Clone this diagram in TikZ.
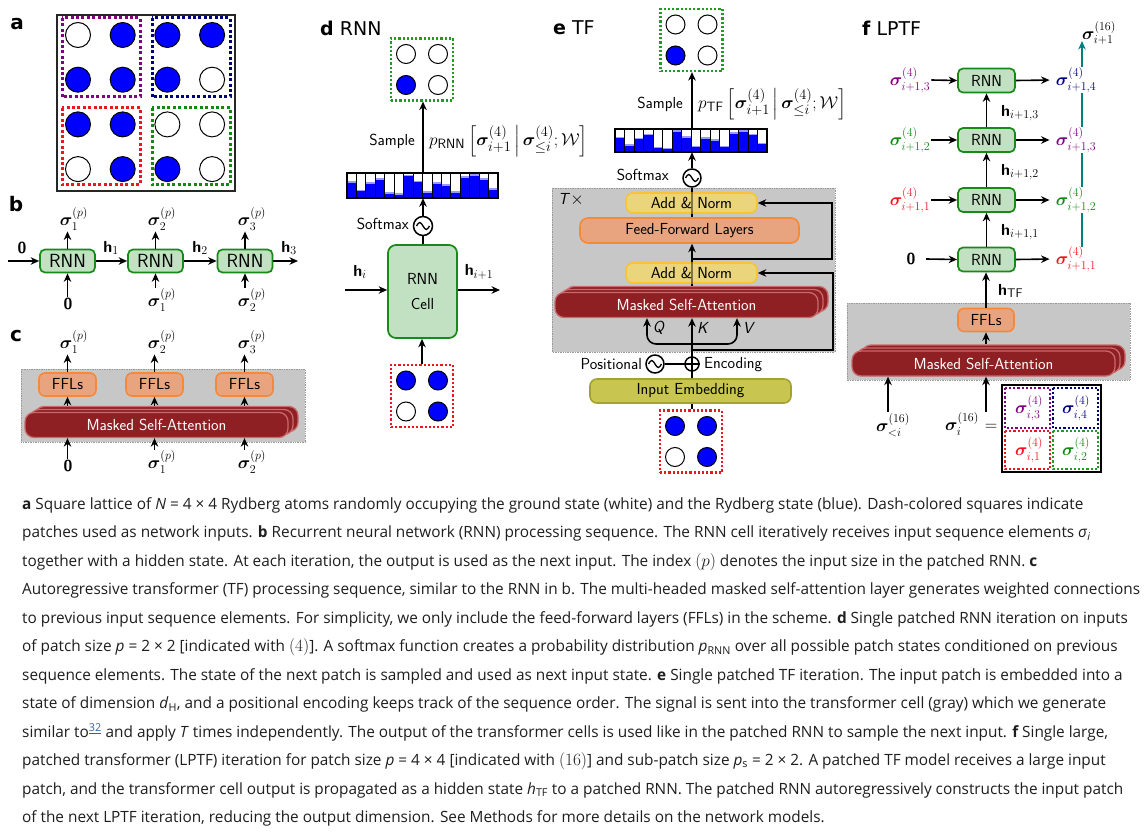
\documentclass[tikz,border=0pt]{standalone}
\usepackage{fontspec}
\usepackage{amsmath,bm}
\usetikzlibrary{arrows.meta,calc}
\newfontfamily\capfont[FakeStretch=0.99]{Open Sans}
\newfontfamily\hdrfont{DejaVu Sans}
\DeclareMathSizes{16}{16}{12.5}{9.5}
\DeclareMathSizes{17.5}{17.5}{13.5}{10}
\definecolor{rnnF}{HTML}{C2E0C2}
\definecolor{rnnD}{HTML}{178A17}
\definecolor{fflF}{HTML}{E8A47E}
\definecolor{fflD}{HTML}{F5893B}
\definecolor{addF}{HTML}{EAD47C}
\definecolor{addD}{HTML}{F7C530}
\definecolor{embF}{HTML}{C8C650}
\definecolor{embD}{HTML}{A3A22E}
\definecolor{msaF}{HTML}{8E1F22}
\definecolor{msaL}{HTML}{C9696B}
\definecolor{grayF}{HTML}{C8C7C8}
\definecolor{pur}{HTML}{800080}
\definecolor{nav}{HTML}{00007F}
\definecolor{myred}{HTML}{F0141E}
\definecolor{grn}{HTML}{108A10}
\definecolor{dgrn}{HTML}{1E9E1E}
\definecolor{tealc}{HTML}{008080}
\definecolor{atomB}{HTML}{0000FF}
\definecolor{capc}{HTML}{1E1E1E}
\definecolor{linkc}{HTML}{3A5F9A}
\newcommand{\hb}{\textsf{\bfseries h}}
\newcommand{\zb}{\textsf{\bfseries 0}}
\newcommand{\mj}{\fontsize{17.5}{18}\selectfont}
\tikzset{
  arr/.style={-{Stealth[length=8.5pt,width=7.5pt]},line width=1.6pt},
  ln/.style={line width=1.6pt},
  atom/.style={circle,draw=black,line width=1pt,inner sep=0pt,minimum size=#1},
  atom/.default=19pt,
  dotbig/.style={line width=3pt,dash pattern=on 3pt off 2.4pt},
  dotsm/.style={line width=2.2pt,dash pattern=on 2.2pt off 2pt},
  rnnbox/.style={draw=rnnD,fill=rnnF,line width=1.7pt,rounded corners=5pt,minimum width=57pt,minimum height=24pt,inner sep=0pt},
  fflbox/.style={draw=fflD,fill=fflF,line width=1.6pt,rounded corners=6pt,minimum height=23pt,inner sep=0pt},
  addbox/.style={draw=addD,fill=addF,line width=1.6pt,rounded corners=7pt,minimum width=131pt,minimum height=20pt,inner sep=0pt},
  embbox/.style={draw=embD,fill=embF,line width=1.6pt,rounded corners=7pt,minimum width=201pt,minimum height=24pt,inner sep=0pt},
  msabox/.style={draw=msaL,fill=msaF,line width=1.3pt,rounded corners=9pt,inner sep=0pt},
  graybox/.style={draw=gray!80,fill=grayF,line width=0.7pt,densely dotted},
  capline/.style={anchor=base west,inner sep=0pt,text=capc,font=\capfont\fontsize{15.5}{18}\selectfont},
  hdr/.style={font=\hdrfont\fontsize{19}{22}\selectfont,inner sep=0pt},
  lbl/.style={inner sep=1pt},
}
\newcommand{\patch}[8]{%
  \node[draw=#4,dotsm,minimum width=62pt,minimum height=62pt,inner sep=0pt] (#1) at (#2,#3) {};
  \node[atom,fill=#5] (#1a) at ({#2-16},{#3-15.5}) {};
  \node[atom,fill=#6] (#1b) at ({#2+16},{#3-15.5}) {};
  \node[atom,fill=#7] (#1c) at ({#2-16},{#3+15.5}) {};
  \node[atom,fill=#8] (#1d) at ({#2+16},{#3+15.5}) {};
}
\newcommand{\bars}[4]{%
  \foreach \v [count=\k from 0] in {0.6,0.27,0.56,0.73,0.17,0.13,0.87,0.63,0.2,0.57,0.49,0.2,0.8,0.89,0.73,0.33}{
    \fill[atomB] ({#1+\k*#3/16},{#2+#4}) rectangle ({#1+(\k+1)*#3/16},{#2+#4-\v*#4});
    \fill[atomB!40] ({#1+\k*#3/16},{#2+#4-\v*#4}) rectangle ({#1+(\k+1)*#3/16},{#2+#4-\v*#4-1.5});
  }
  \foreach \k in {1,...,15}{\draw[line width=0.8pt] ({#1+\k*#3/16},#2) -- ({#1+\k*#3/16},{#2+#4});}
  \draw[line width=2pt] (#1,#2) rectangle ({#1+#3},{#2+#4});
}
\newcommand{\wave}[1]{\draw[line width=1.3pt] ($(#1)+(-6.5,0)$) sin ($(#1)+(-3.25,-3.5)$) cos ($(#1)$) sin ($(#1)+(3.25,3.5)$) cos ($(#1)+(6.5,0)$);}
\newcommand{\msa}[3]{% name, cx, cy
  \node[msabox,minimum width=263pt,minimum height=25pt] (#1b2) at ({#2+10},{#3-6}) {};
  \node[msabox,minimum width=263pt,minimum height=25pt] (#1b1) at ({#2+5},{#3-3}) {};
  \node[msabox,minimum width=263pt,minimum height=25pt,text=white] (#1) at (#2,#3) {Masked Self-Attention};
}
\begin{document}
\begin{tikzpicture}[x=1pt,y=-1pt,font=\sffamily\fontsize{16}{19}\selectfont]
\useasboundingbox (0,0) rectangle (1145,837);
\fill[white] (0,0) rectangle (1145,837);

% ---------------- panel a
\node[hdr,font=\hdrfont\bfseries\fontsize{20}{22}\selectfont] (la) at (17,24) {a};
\draw[line width=1.5pt,draw=black!85] (57,15) rectangle (235,191);
\foreach \r/\c/\f in {1/1/white,1/2/atomB,1/3/atomB,1/4/atomB,
                      2/1/atomB,2/2/atomB,2/3/atomB,2/4/white,
                      3/1/atomB,3/2/atomB,3/3/white,3/4/white,
                      4/1/white,4/2/atomB,4/3/atomB,4/4/white}{
  \node[atom=25pt,fill=\f] (a\r\c) at ({78+44.7*(\c-1)},{35+44.7*(\r-1)}) {};
}
\draw[dotbig,pur] (62,18) rectangle (140,97);
\draw[dotbig,nav] (152,18) rectangle (230,97);
\draw[dotbig,myred] (62,108) rectangle (140,185);
\draw[dotbig,grn] (152,108) rectangle (230,185);

% ---------------- panel b
\node[hdr,font=\hdrfont\bfseries\fontsize{20}{22}\selectfont] (lb) at (16,204) {b};
\begin{scope}[every node/.append style={font=\sffamily\fontsize{19}{22}\selectfont}]
\node[rnnbox,minimum width=55pt,minimum height=23pt] (b1) at (67.5,261) {RNN};
\node[rnnbox,minimum width=55pt,minimum height=23pt] (b2) at (155.5,261) {RNN};
\node[rnnbox,minimum width=55pt,minimum height=23pt] (b3) at (245,261) {RNN};
\end{scope}
\coordinate (bin) at (8,261);
\coordinate (bout) at (298,261);
\draw[arr] (bin) -- (b1);
\draw[arr] (b1) -- (b2);
\draw[arr] (b2) -- (b3);
\draw[arr] (b3) -- (bout);
\node[lbl] (bz) at (22,248) {\zb};
\node[lbl] (bh1) at (111,248) {$\hb_1$};
\node[lbl] (bh2) at (200,248) {$\hb_2$};
\node[lbl] (bh3) at (289,248) {$\hb_3$};
\node[lbl] (bt1) at (74,219) {$\bm\sigma^{(p)}_1$};
\node[lbl] (bt2) at (162,219) {$\bm\sigma^{(p)}_2$};
\node[lbl] (bt3) at (252,219) {$\bm\sigma^{(p)}_3$};
\draw[arr] (b1.north) -- (b1.north |- bt1.south);
\draw[arr] (b2.north) -- (b2.north |- bt2.south);
\draw[arr] (b3.north) -- (b3.north |- bt3.south);
\node[lbl] (bb1) at (68,304) {\zb};
\node[lbl] (bb2) at (162,300) {$\bm\sigma^{(p)}_1$};
\node[lbl] (bb3) at (252,300) {$\bm\sigma^{(p)}_2$};
\draw[arr] (b1.south |- bb1.north) -- (b1.south);
\draw[arr] (b2.south |- bb2.north) -- (b2.south);
\draw[arr] (b3.south |- bb3.north) -- (b3.south);

% ---------------- panel c
\node[hdr,font=\hdrfont\bfseries\fontsize{20}{22}\selectfont] (lc) at (16,336) {c};
\draw[graybox] (21,369) rectangle (305,442);
\node[fflbox,minimum width=57pt] (c1) at (67.5,384.5) {FFLs};
\node[fflbox,minimum width=57pt] (c2) at (154.5,384.5) {FFLs};
\node[fflbox,minimum width=57pt] (c3) at (244.5,384.5) {FFLs};
\msa{cm}{156.5}{425}
\node[lbl] (ct1) at (74,342) {$\bm\sigma^{(p)}_1$};
\node[lbl] (ct2) at (162,342) {$\bm\sigma^{(p)}_2$};
\node[lbl] (ct3) at (252,342) {$\bm\sigma^{(p)}_3$};
\draw[arr] (c1.north) -- (c1.north |- ct1.south);
\draw[arr] (c2.north) -- (c2.north |- ct2.south);
\draw[arr] (c3.north) -- (c3.north |- ct3.south);
\draw[arr] (c1.south |- cmb2.north) -- (c1.south);
\draw[arr] (c2.south |- cmb2.north) -- (c2.south);
\draw[arr] (c3.south |- cmb2.north) -- (c3.south);
\node[lbl] (cb1) at (68,466) {\zb};
\node[lbl] (cb2) at (162,462) {$\bm\sigma^{(p)}_1$};
\node[lbl] (cb3) at (252,462) {$\bm\sigma^{(p)}_2$};
\draw[arr] (c1.south |- cb1.north) -- (c1.south |- cm.south);
\draw[arr] (c2.south |- cb2.north) -- (c2.south |- cm.south);
\draw[arr] (c3.south |- cb3.north) -- (c3.south |- cm.south);

% ---------------- panel d
\node[hdr,anchor=west] (ld) at (320,28) {{\bfseries d} RNN};
\patch{dpo}{422}{69.5}{dgrn}{white}{white}{atomB}{white}
\node[inner sep=0pt,minimum width=151pt,minimum height=25pt] (dh) at (422.5,185.5) {};
\bars{347}{173}{151}{25}
\node[circle,draw,line width=1.5pt,minimum size=19pt,inner sep=0pt,fill=white] (dsm) at (423,226) {};
\wave{dsm}
\node[lbl,anchor=east] (dsmt) at (410,224) {Softmax};
\node[rnnbox,minimum width=69pt,minimum height=93pt,rounded corners=8pt,align=center] (dcell) at (422.5,291.5) {RNN\\[6pt]Cell};
\patch{dpi}{422}{396}{myred}{atomB}{atomB}{white}{atomB}
\draw[arr] (dpi.north) -- (dpi.north |- dcell.south);
\draw[ln] (dcell.north -| dsm) -- (dsm.south);
\draw[arr] (dsm.north) -- (dsm.north |- dh.south);
\draw[arr] (dh.north -| dsm) -- (dsm |- dpo.south);
\coordinate (dhin) at (345,290);
\coordinate (dhout) at (500,290);
\draw[arr] (dhin) -- (dcell.west |- dhin);
\draw[arr] (dcell.east |- dhout) -- (dhout);
\node[lbl] (dhi) at (360,272) {$\hb_i$};
\node[lbl] (dho) at (479,272) {$\hb_{i+1}$};
\node[lbl,anchor=east] (dsam) at (416,141) {Sample};
\node[inner sep=0pt,anchor=west,font=\sffamily\fontsize{17.5}{19}\selectfont] (dp) at (429,141) {$p_{\textsf{RNN}}\left[\bm\sigma^{(4)}_{i+1}\,\middle|\,\bm\sigma^{(4)}_{\le i};\mathcal{W}\right]$};

% ---------------- panel e
\node[hdr,anchor=west] (le) at (553,28) {{\bfseries e} TF};
\patch{epo}{691.5}{40}{dgrn}{white}{white}{atomB}{white}
\node[inner sep=0pt,minimum width=152pt,minimum height=23pt] (eh) at (691,140.5) {};
\bars{615}{129}{152}{23}
\node[lbl,anchor=east] (esam) at (684,104) {Sample};
\node[inner sep=0pt,anchor=west,font=\sffamily\fontsize{17.5}{19}\selectfont] (ep) at (698,104) {$p_{\textsf{TF}}\left[\bm\sigma^{(4)}_{i+1}\,\middle|\,\bm\sigma^{(4)}_{\le i};\mathcal{W}\right]$};
\draw[graybox] (552,188) rectangle (835,352);
\node[lbl,anchor=west] (eT) at (557,200) {\textsf{\itshape T}$\times$};
\node[circle,draw,line width=1.5pt,minimum size=18pt,inner sep=0pt,fill=white] (esm) at (692,178) {};
\wave{esm}
\node[lbl,anchor=east] (esmt) at (670,175) {Softmax};
\node[addbox] (ean2) at (691.5,203) {Add \& Norm};
\node[fflbox,minimum width=219pt,minimum height=25pt,rounded corners=8pt] (effl) at (689.5,230.5) {Feed-Forward Layers};
\node[addbox] (ean1) at (691.5,273) {Add \& Norm};
\msa{em}{686.5}{305}
\node[embbox] (eie) at (690.5,391) {Input Embedding};
\node[circle,draw,line width=1.5pt,minimum size=14pt,inner sep=0pt] (eplus) at (692,364) {};
\draw[line width=1.2pt] (eplus.north) -- (eplus.south) (eplus.west) -- (eplus.east);
\node[circle,draw,line width=1.5pt,minimum size=18pt,inner sep=0pt] (epe) at (655,364) {};
\wave{epe}
\draw[ln] (epe.east) -- (eplus.west);
\node[lbl,anchor=east] (epos) at (643,364) {Positional};
\node[lbl,anchor=west] (eenc) at (703,365) {Encoding};
\patch{epi}{691}{441.5}{myred}{atomB}{atomB}{white}{atomB}
\draw[ln] (epi.north -| eplus) -- (eie.south -| eplus);
\draw[ln] (eie.north -| eplus) -- (eplus.south);
\draw[arr] (eplus.north) -- (eplus |- em.south);
\coordinate (eq) at (647,344);
\coordinate (ev) at (737,344);
\coordinate (esp) at (692,344);
\draw[arr,rounded corners=9pt] (esp) -- (eq) -- (eq |- em.south);
\draw[arr,rounded corners=9pt] (esp) -- (ev) -- (ev |- em.south);
\node[lbl] (eQ) at (659,328) {\textsf{\itshape Q}};
\node[lbl] (eK) at (703,328) {\textsf{\itshape K}};
\node[lbl] (eV) at (749,328) {\textsf{\itshape V}};
\draw[ln] (emb2.north -| esp) -- (ean1.south -| esp);
\draw[ln,draw opacity=0.45] (ean1.south -| esp) -- (ean1.north -| esp);
\draw[arr] (ean1.north -| esp) -- (effl.south -| esp);
\draw[ln] (effl.north -| esp) -- (ean2.south -| esp);
\draw[ln,draw opacity=0.45] (ean2.south -| esp) -- (ean2.north -| esp);
\draw[ln] (ean2.north -| esp) -- (esm.south);
\draw[arr] (esm.north) -- (esm.north |- eh.south);
\coordinate (er1) at (692,350);
\coordinate (er2) at (833,350);
\draw[arr] (er1) -- (er2) -- (er2 |- ean1.east) -- (ean1.east);
\coordinate (eu1) at (692,259);
\coordinate (eu2) at (832,259);
\draw[arr] (eu1) -- (eu2) -- (eu2 |- ean2.east) -- (ean2.east);
\draw[arr] (eh.north -| esm) -- (esm |- epo.south);

% ---------------- panel f
\node[hdr,anchor=west] (lf) at (862,28) {{\bfseries f} LPTF};
\coordinate (ft0) at (1082,247);
\coordinate (ft1) at (1082,41);
\draw[arr,tealc] (ft0) -- (ft1);
\node[lbl] (ftop) at (1099,33) {$\bm\sigma^{(16)}_{i+1}$};
\node[rnnbox] (f1) at (986.5,259.5) {RNN};
\node[rnnbox] (f2) at (986.5,200) {RNN};
\node[rnnbox] (f3) at (986.5,140) {RNN};
\node[rnnbox] (f4) at (986.5,80.5) {RNN};
\draw[arr] (f1) -- (f2);
\draw[arr] (f2) -- (f3);
\draw[arr] (f3) -- (f4);
\node[lbl] (fl1) at (911,259) {\zb};
\node[lbl,text=myred] (fl2) at (910,200) {$\bm\sigma^{(4)}_{i+1,1}$};
\node[lbl,text=grn] (fl3) at (910,140) {$\bm\sigma^{(4)}_{i+1,2}$};
\node[lbl,text=pur] (fl4) at (910,80) {$\bm\sigma^{(4)}_{i+1,3}$};
\draw[arr] (926,259) -- (f1.west);
\draw[arr] (fl2.east) -- (f2.west);
\draw[arr] (fl3.east) -- (f3.west);
\draw[arr] (fl4.east) -- (f4.west);
\node[lbl,text=myred] (fr1) at (1076,259) {$\bm\sigma^{(4)}_{i+1,1}$};
\node[lbl,text=grn,fill=white] (fr2) at (1076,200) {$\bm\sigma^{(4)}_{i+1,2}$};
\node[lbl,text=pur,fill=white] (fr3) at (1076,140) {$\bm\sigma^{(4)}_{i+1,3}$};
\node[lbl,text=nav,fill=white] (fr4) at (1076,80) {$\bm\sigma^{(4)}_{i+1,4}$};
\draw[arr,shorten >=5pt] (f1.east) -- (fr1.west);
\draw[arr,shorten >=5pt] (f2.east) -- (fr2.west);
\draw[arr,shorten >=5pt] (f3.east) -- (fr3.west);
\draw[arr,shorten >=5pt] (f4.east) -- (fr4.west);
\node[lbl,anchor=west] (fh3) at (1000,113) {$\hb_{i+1,3}$};
\node[lbl,anchor=west] (fh2) at (1000,172) {$\hb_{i+1,2}$};
\node[lbl,anchor=west] (fh1) at (1000,232) {$\hb_{i+1,1}$};
\node[lbl,anchor=west] (fhtf) at (997,291) {$\hb_{\textsf{TF}}$};
\draw[graybox] (847,303) rectangle (1130,380);
\node[fflbox,minimum width=56pt] (fff) at (986,320) {FFLs};
\msa{fm}{983.5}{363.5}
\draw[arr] (fff.north) -- (fff.north |- f1.south);
\draw[arr] (fff.south |- fmb2.north) -- (fff.south);
\coordinate (fb1) at (888,412);
\coordinate (fb2) at (986,412);
\draw[arr] (fb1) -- (fb1 |- fm.south);
\draw[arr] (fb2) -- (fb2 |- fm.south);
\node[lbl] (fsl) at (893,425) {$\bm\sigma^{(16)}_{<i}$};
\node[lbl] (fsi) at (962,424) {$\bm\sigma^{(16)}_{i}$};
\node[lbl] (feq) at (991,427) {$=$};
\draw[line width=1.5pt] (1002,385) rectangle (1101,472);
\draw[dotsm,pur] (1005,388) rectangle (1050,428);
\draw[dotsm,nav] (1053,388) rectangle (1098,428);
\draw[dotsm,myred] (1005,431) rectangle (1050,469);
\draw[dotsm,dgrn] (1053,431) rectangle (1098,469);
\node[lbl,text=pur] (g3) at (1029,408) {$\bm\sigma^{(4)}_{i,3}$};
\node[lbl,text=nav] (g4) at (1076,408) {$\bm\sigma^{(4)}_{i,4}$};
\node[lbl,text=myred] (g1) at (1029,450) {$\bm\sigma^{(4)}_{i,1}$};
\node[lbl,text=grn] (g2) at (1076,450) {$\bm\sigma^{(4)}_{i,2}$};

% ---------------- caption
\node[capline] (cap1) at (22,509) {{\bfseries a} Square lattice of \textit{N} = 4 × 4 Rydberg atoms randomly occupying the ground state (white) and the Rydberg state (blue). Dash-colored squares indicate};
\node[capline] (cap2) at (22,537.5) {patches used as network inputs. {\bfseries b} Recurrent neural network (RNN) processing sequence. The RNN cell iteratively receives input sequence elements \textit{σ}\textsubscript{\textit{i}}};
\node[capline] (cap3) at (22,566) {together with a hidden state. At each iteration, the output is used as the next input. The index {\mj$(p)$} denotes the input size in the patched RNN. {\bfseries c}};
\node[capline] (cap4) at (22,594.5) {Autoregressive transformer (TF) processing sequence, similar to the RNN in b. The multi-headed masked self-attention layer generates weighted connections};
\node[capline] (cap5) at (22,623) {to previous input sequence elements. For simplicity, we only include the feed-forward layers (FFLs) in the scheme. {\bfseries d} Single patched RNN iteration on inputs};
\node[capline] (cap6) at (22,651.5) {of patch size \textit{p} = 2 × 2 [indicated with {\mj$(4)$}]. A softmax function creates a probability distribution \textit{p}\textsubscript{RNN} over all possible patch states conditioned on previous};
\node[capline] (cap7) at (22,680) {sequence elements. The state of the next patch is sampled and used as next input state. {\bfseries e} Single patched TF iteration. The input patch is embedded into a};
\node[capline] (cap8) at (22,708.5) {state of dimension \textit{d}\textsubscript{H}, and a positional encoding keeps track of the sequence order. The signal is sent into the transformer cell (gray) which we generate};
\node[capline] (cap9) at (22,737) {similar to\textsuperscript{\color{linkc}\underline{32}} and apply \textit{T} times independently. The output of the transformer cells is used like in the patched RNN to sample the next input. {\bfseries f} Single large,};
\node[capline] (cap10) at (22,765.5) {patched transformer (LPTF) iteration for patch size \textit{p} = 4 × 4 [indicated with {\mj$(16)$}] and sub-patch size \textit{p}\textsubscript{s} = 2 × 2. A patched TF model receives a large input};
\node[capline] (cap11) at (22,794) {patch, and the transformer cell output is propagated as a hidden state \textit{h}\textsubscript{TF} to a patched RNN. The patched RNN autoregressively constructs the input patch};
\node[capline] (cap12) at (22,822.5) {of the next LPTF iteration, reducing the output dimension. See Methods for more details on the network models.};
\end{tikzpicture}
\end{document}
